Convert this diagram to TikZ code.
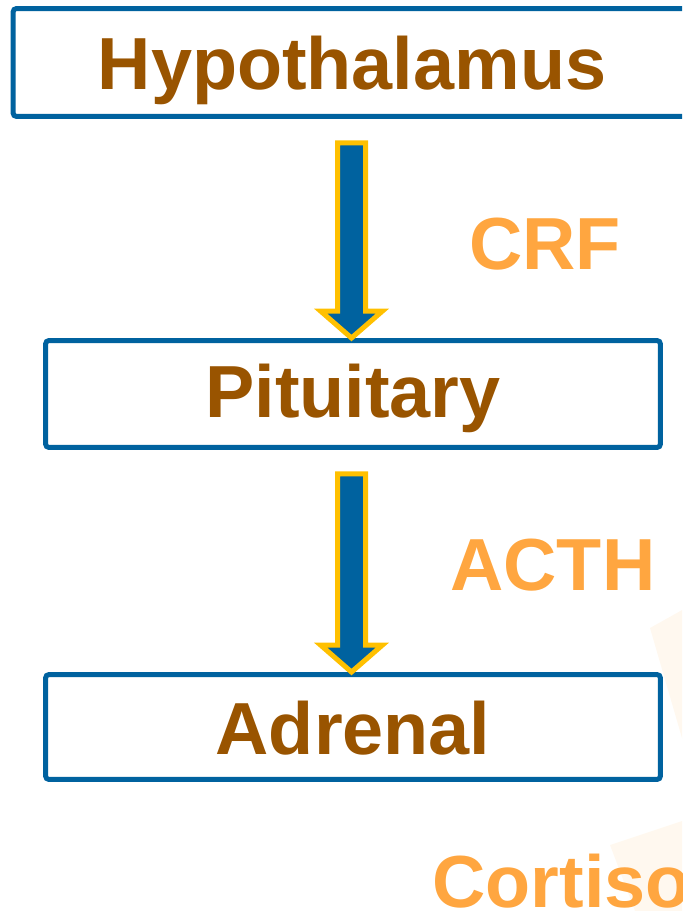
\documentclass[tikz,border=0pt]{standalone}
\usepackage{fontspec}
\setmainfont{Liberation Sans}
\usetikzlibrary{calc,positioning}
\definecolor{BoxBlue}{HTML}{00629F}
\definecolor{Brown}{HTML}{995400}
\definecolor{Orange}{HTML}{FFA640}
\definecolor{Gold}{HTML}{FFC000}
\definecolor{Cream}{HTML}{FFF8EF}
\begin{document}
\begin{tikzpicture}[
  x=0.02cm,y=-0.02cm,
  font=\bfseries\fontsize{42}{50}\selectfont,
  organ/.style={draw=BoxBlue, fill=white, line width=0.1cm, rounded corners=2pt, text=Brown, inner sep=0pt, text depth=0pt, minimum height=2.14cm},
  hormone/.style={text=Orange, inner sep=0pt, anchor=base west},
  flow/.style={draw=Gold, fill=BoxBlue, line width=0.1cm, line join=miter}
]
  \useasboundingbox (0,0) rectangle (682,911);
  \clip (0,0) rectangle (682,911);
  \fill[Cream] (650,628) -- (700,600) -- (700,800) -- cycle;
  \fill[Cream] (610,845) -- (700,815) -- (700,911) -- (635,911) -- cycle;

  \node[organ, minimum width=13.56cm, minimum height=2.16cm, text height=1.1cm] (hyp) at (352,62.5) {Hypothalamus};
  \node[organ, minimum width=12.3cm, text height=0.96cm] (pit) at (353,394) {Pituitary};
  \node[organ, minimum width=12.3cm, minimum height=2.1cm, text height=1.08cm] (adr) at (353,727) {Adrenal};

  \node[hormone] (crf) at (469,270) {CRF};
  \node[hormone] (acth) at (450,590) {ACTH};
  \node[hormone] (cort) at (432,907) {Cortisol};

  \draw[flow] ($(hyp.south -| pit.north)+(-15.5,24)$) -- ++(28,0) -- ($(pit.north)+(12.5,-27)$) -- ++(17,0)
    -- ($(pit.north)+(-1.5,0)$) -- ($(pit.north)+(-32.5,-27)$) -- ++(17,0) -- cycle;
  \draw[flow] ($(pit.south -| adr.north)+(-15.5,24)$) -- ++(28,0) -- ($(adr.north)+(12.5,-27)$) -- ++(17,0)
    -- ($(adr.north)+(-1.5,0)$) -- ($(adr.north)+(-32.5,-27)$) -- ++(17,0) -- cycle;
\end{tikzpicture}
\end{document}
